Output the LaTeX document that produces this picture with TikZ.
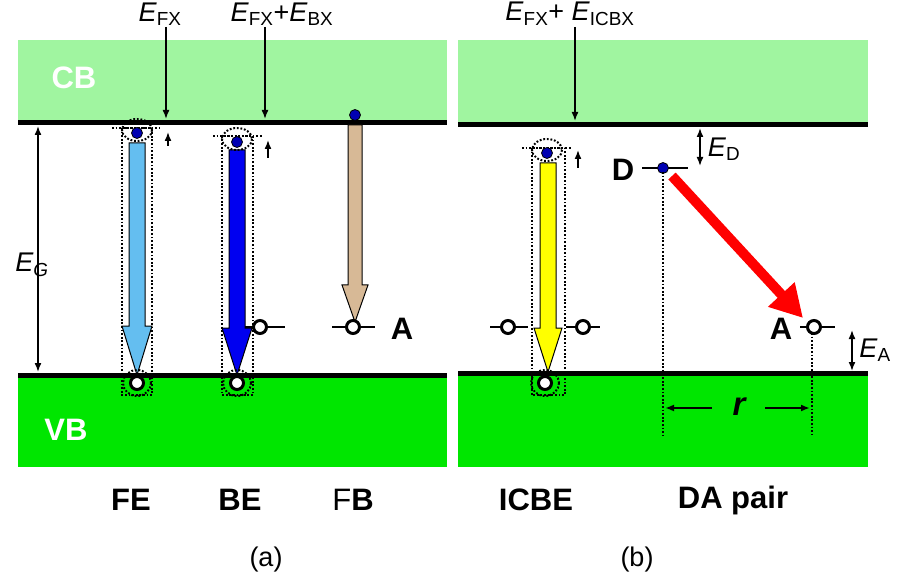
\documentclass[tikz,border=0pt]{standalone}
\usepackage{fontspec}
\setmainfont{Liberation Sans}
\usetikzlibrary{arrows.meta}
\begin{document}
\begin{tikzpicture}[x=1pt,y=-1pt,
 edge/.style={line width=5pt},
 el/.style={circle,fill=blue!70!black,draw=black,line width=0.8pt,minimum size=11pt,inner sep=0},
 ho/.style={circle,fill=white,draw=black,line width=3pt,minimum size=13pt,inner sep=0},
 dot/.style={dash pattern=on 1.8pt off 1.8pt,line width=2pt},
 lvl/.style={line width=2.2pt},
 dbl/.style={{Latex[length=9pt,width=7pt]}-{Latex[length=9pt,width=7pt]},line width=1.6pt},
 sarr/.style={-{Latex[length=9pt,width=7pt]},line width=1.6pt},
 big/.style={font=\fontsize{31}{33}\selectfont\bfseries},
 lab/.style={font=\fontsize{27}{29}\selectfont},
 fat/.style={draw=black,line width=1pt}]
\useasboundingbox (0,0) rectangle (900,588);
\fill[fill={rgb,255:red,160;green,245;blue,160}] (18,40) rectangle (447,123);
\fill[fill={rgb,255:red,160;green,245;blue,160}] (458,40) rectangle (868,125);
\fill[fill={rgb,255:red,0;green,230;blue,0}] (18,375) rectangle (447,467);
\fill[fill={rgb,255:red,0;green,230;blue,0}] (458,373) rectangle (868,467);
\draw[edge] (18,123)--(447,123); \draw[edge] (18,375)--(447,375);
\draw[edge] (458,125)--(868,125); \draw[edge] (458,373)--(868,373);
\node[big,white] (cb) at (74,78) {CB};
\node[big,white] (vb) at (66,430) {VB};
\coordinate (g1) at (38,126); \coordinate (g2) at (38,372);
\draw[dbl] (g1)--(g2);
\node[lab] (eg) at (32,265) {\textit{E\textsubscript{G}}};
\node[lab] (efx) at (160,14) {\textit{E}\textsubscript{FX}};
\coordinate (e1) at (166,27); \coordinate (e2) at (166,119);
\draw[sarr] (e1)--(e2);
\node[lab] (efxbx) at (282,14) {\textit{E}\textsubscript{FX}+\textit{E}\textsubscript{BX}};
\coordinate (b1) at (265,27); \coordinate (b2) at (265,119);
\draw[sarr] (b1)--(b2);
% FE
\draw[dot] (122,128) rectangle (152,395);
\draw[dot] (112,128)--(160,128);
\draw[fat,fill={rgb,255:red,100;green,190;blue,240}] (129,143)--(145,143)--(145,326)--(152,326)--(137,375)--(122,326)--(129,326)--cycle;
\node[el] (fe) at (137,133) {};
\draw[dot] (137,130) circle[x radius=15,y radius=11];
\node[ho] (feh) at (137,383) {};
\draw[dot] (137,383) circle[x radius=14,y radius=13];
\coordinate (fu1) at (168,146); \coordinate (fu2) at (168,132);
\draw[sarr] (fu1)--(fu2);
% BE
\draw[dot] (222,136) rectangle (253,395);
\draw[dot] (213,136)--(262,136);
\draw[fat,fill={rgb,255:red,0;green,0;blue,240}] (229,150)--(245,150)--(245,328)--(252,328)--(237,375)--(222,328)--(229,328)--cycle;
\node[el] (be) at (237,142) {};
\draw[dot] (237,139) circle[x radius=15,y radius=11];
\node[ho] (beh) at (237,383) {};
\draw[dot] (237,383) circle[x radius=14,y radius=13];
\coordinate (bu1) at (268,158); \coordinate (bu2) at (268,140);
\draw[sarr] (bu1)--(bu2);
\draw[lvl] (245,327)--(285,327);
\node[ho] (ba) at (260,327) {};
% FB
\draw[fat,fill={rgb,255:red,215;green,185;blue,150}] (348,125)--(362,125)--(362,285)--(368,285)--(355,322)--(342,285)--(348,285)--cycle;
\node[el] (fb) at (355,115) {};
\draw[lvl] (332,327)--(375,327);
\node[ho] (fa) at (353,327) {};
\node[big] (A1) at (402,329) {A};
% panel b
\node[lab] (eicb) at (570,14) {\textit{E}\textsubscript{FX}+ \textit{E}\textsubscript{ICBX}};
\coordinate (i1) at (575,27); \coordinate (i2) at (575,121);
\draw[sarr] (i1)--(i2);
\draw[dot] (532,148) rectangle (565,395);
\draw[dot] (522,148)--(572,148);
\draw[fat,fill={rgb,255:red,255;green,255;blue,0}] (540,163)--(556,163)--(556,328)--(562,328)--(548,372)--(534,328)--(540,328)--cycle;
\node[el] (ie) at (547,153) {};
\draw[dot] (547,150) circle[x radius=15,y radius=11];
\node[ho] (ih) at (545,383) {};
\draw[dot] (545,383) circle[x radius=14,y radius=13];
\coordinate (iu1) at (578,168); \coordinate (iu2) at (578,150);
\draw[sarr] (iu1)--(iu2);
\draw[lvl] (490,327)--(528,327);
\node[ho] (ia1) at (508,327) {};
\draw[lvl] (566,327)--(600,327);
\node[ho] (ia2) at (583,327) {};
\node[big] (D) at (623,170) {D};
\draw[lvl] (642,168)--(688,168);
\node[el] (de) at (663,168) {};
\coordinate (d1) at (700,128); \coordinate (d2) at (700,166);
\draw[dbl] (d1)--(d2);
\node[lab] (ed) at (724,149) {\textit{E}\textsubscript{D}};
\coordinate (r1) at (672,176); \coordinate (r2) at (803,318);
\draw[line width=10pt,red,-{Triangle[length=32pt,width=34pt]}] (r1)--(r2);
\draw[lvl] (800,327)--(835,327);
\node[ho] (da) at (814,327) {};
\node[big] (A2) at (781,329) {A};
\coordinate (a1) at (852,330); \coordinate (a2) at (852,371);
\draw[dbl] (a1)--(a2);
\node[lab] (ea) at (875,350) {\textit{E}\textsubscript{A}};
\coordinate (v1) at (663,172); \coordinate (v2) at (663,435);
\draw[dot] (v1)--(v2);
\coordinate (w1) at (812,333); \coordinate (w2) at (812,435);
\draw[dot] (w1)--(w2);
\coordinate (ra) at (712,408); \coordinate (rb) at (665,408);
\coordinate (rc) at (765,408); \coordinate (rd) at (810,408);
\draw[sarr,line width=2pt] (ra)--(rb); \draw[sarr,line width=2pt] (rc)--(rd);
\node[font=\fontsize{33}{35}\selectfont\bfseries\itshape] (r) at (739,407) {r};
\node[big] (lfe) at (131,500) {FE};
\node[big] (lbe) at (240,500) {BE};
\node[font=\fontsize{31}{33}\selectfont] (lfb) at (353,500) {F\textbf{B}};
\node[big] (lic) at (536,500) {ICBE};
\node[big] (lda) at (733,500) {DA pair};
\node[lab] (pa) at (266,560) {(a)};
\node[lab] (pb) at (637,560) {(b)};
\end{tikzpicture}
\end{document}
